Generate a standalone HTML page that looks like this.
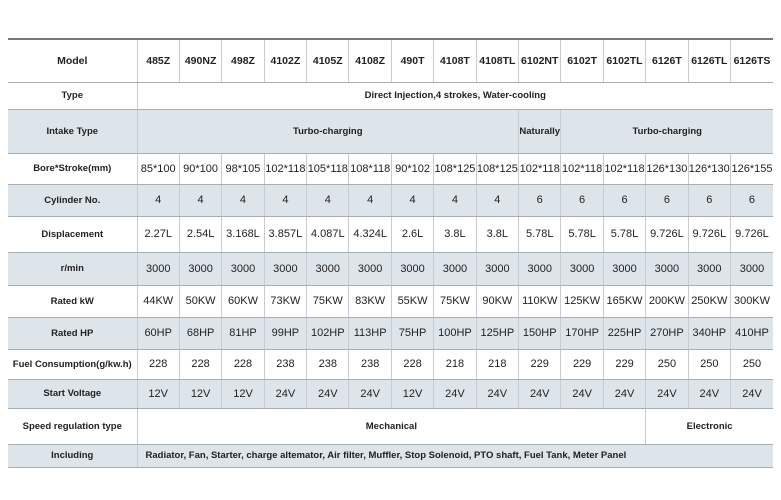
<!DOCTYPE html>
<html><head><meta charset="utf-8"><style>
html,body{margin:0;padding:0;background:#fff;width:781px;height:500px;overflow:hidden}
table{position:absolute;left:8px;top:38px;border-collapse:collapse;table-layout:fixed;width:765px;font-family:"Liberation Sans",sans-serif;color:#222}
td{border-left:1px solid #c8ccd0;border-right:1px solid #c8ccd0;border-bottom:1px solid #a9adb1;text-align:center;padding:0;font-size:11px;white-space:nowrap;overflow:hidden}
td.l{font-weight:bold;font-size:9.5px;border-left:none}
tr:first-child td{border-top:2px solid #777}
td:last-child{border-right:none}
tr.s td{background:#dde4ea}
tr.h td{font-weight:bold;font-size:10.5px}
.b{font-weight:bold;font-size:9.5px}
</style></head><body>
<table>
<colgroup><col style="width:129px"><col span="15" style="width:42.4px"></colgroup>
<tr class="h" style="height:43px"><td class="l">Model</td><td>485Z</td><td>490NZ</td><td>498Z</td><td>4102Z</td><td>4105Z</td><td>4108Z</td><td>490T</td><td>4108T</td><td>4108TL</td><td>6102NT</td><td>6102T</td><td>6102TL</td><td>6126T</td><td>6126TL</td><td>6126TS</td></tr>
<tr style="height:27px"><td class="l">Type</td><td colspan="15" class="b">Direct Injection,4 strokes, Water-cooling</td></tr>
<tr class="s" style="height:44px"><td class="l">Intake Type</td><td colspan="9" class="b">Turbo-charging</td><td class="b">Naturally</td><td colspan="5" class="b">Turbo-charging</td></tr>
<tr style="height:31px"><td class="l">Bore*Stroke(mm)</td><td>85*100</td><td>90*100</td><td>98*105</td><td>102*118</td><td>105*118</td><td>108*118</td><td>90*102</td><td>108*125</td><td>108*125</td><td>102*118</td><td>102*118</td><td>102*118</td><td>126*130</td><td>126*130</td><td>126*155</td></tr>
<tr class="s" style="height:32px"><td class="l">Cylinder No.</td><td>4</td><td>4</td><td>4</td><td>4</td><td>4</td><td>4</td><td>4</td><td>4</td><td>4</td><td>6</td><td>6</td><td>6</td><td>6</td><td>6</td><td>6</td></tr>
<tr style="height:36px"><td class="l">Displacement</td><td>2.27L</td><td>2.54L</td><td>3.168L</td><td>3.857L</td><td>4.087L</td><td>4.324L</td><td>2.6L</td><td>3.8L</td><td>3.8L</td><td>5.78L</td><td>5.78L</td><td>5.78L</td><td>9.726L</td><td>9.726L</td><td>9.726L</td></tr>
<tr class="s" style="height:33px"><td class="l">r/min</td><td>3000</td><td>3000</td><td>3000</td><td>3000</td><td>3000</td><td>3000</td><td>3000</td><td>3000</td><td>3000</td><td>3000</td><td>3000</td><td>3000</td><td>3000</td><td>3000</td><td>3000</td></tr>
<tr style="height:32px"><td class="l">Rated kW</td><td>44KW</td><td>50KW</td><td>60KW</td><td>73KW</td><td>75KW</td><td>83KW</td><td>55KW</td><td>75KW</td><td>90KW</td><td>110KW</td><td>125KW</td><td>165KW</td><td>200KW</td><td>250KW</td><td>300KW</td></tr>
<tr class="s" style="height:32px"><td class="l">Rated HP</td><td>60HP</td><td>68HP</td><td>81HP</td><td>99HP</td><td>102HP</td><td>113HP</td><td>75HP</td><td>100HP</td><td>125HP</td><td>150HP</td><td>170HP</td><td>225HP</td><td>270HP</td><td>340HP</td><td>410HP</td></tr>
<tr style="height:30px"><td class="l">Fuel Consumption(g/kw.h)</td><td>228</td><td>228</td><td>228</td><td>238</td><td>238</td><td>238</td><td>228</td><td>218</td><td>218</td><td>229</td><td>229</td><td>229</td><td>250</td><td>250</td><td>250</td></tr>
<tr class="s" style="height:29px"><td class="l">Start Voltage</td><td>12V</td><td>12V</td><td>12V</td><td>24V</td><td>24V</td><td>24V</td><td>12V</td><td>24V</td><td>24V</td><td>24V</td><td>24V</td><td>24V</td><td>24V</td><td>24V</td><td>24V</td></tr>
<tr style="height:36px"><td class="l">Speed regulation type</td><td colspan="12" class="b">Mechanical</td><td colspan="3" class="b">Electronic</td></tr>
<tr class="s" style="height:23px"><td class="l">Including</td><td colspan="15" class="b" style="text-align:left;padding-left:8px">Radiator, Fan, Starter, charge altemator, Air filter, Muffler, Stop Solenoid, PTO shaft, Fuel Tank, Meter Panel</td></tr>
</table>
</body></html>
